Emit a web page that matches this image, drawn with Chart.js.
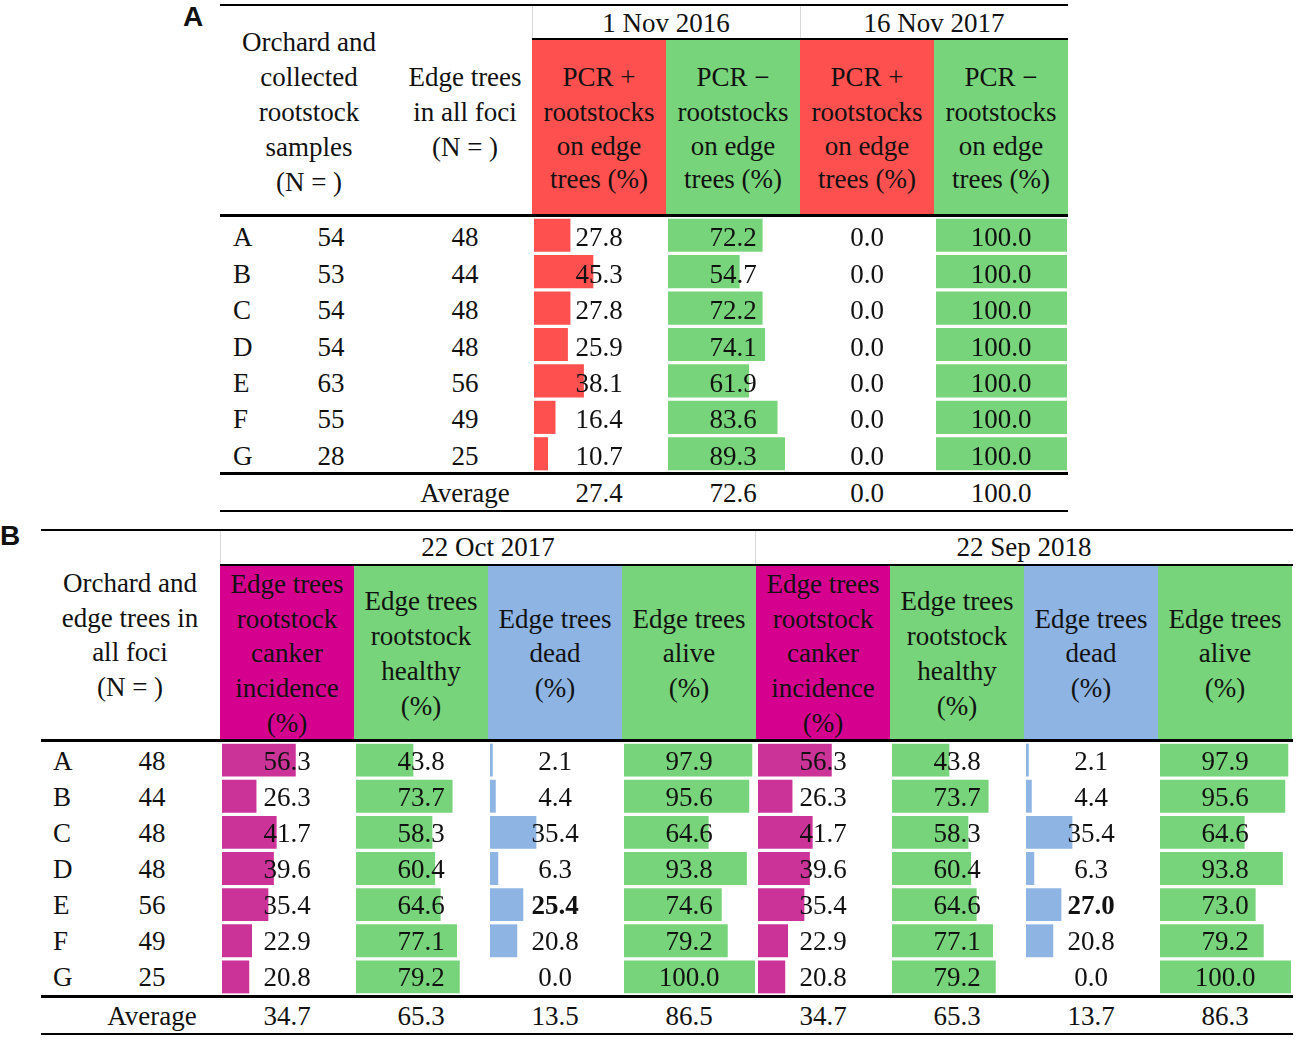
<!DOCTYPE html>
<html>
<head>
<meta charset="utf-8">
<script src="https://cdn.jsdelivr.net/npm/chart.js@4"></script>
<style>
  body { margin: 0; background: #fff; }
  #page { position: relative; width: 1297px; height: 1040px; overflow: hidden; font-family: "Liberation Serif", "Times New Roman", serif; color: #111; }
  .t { position: absolute; white-space: nowrap; font-size: 27px; line-height: 1; transform: translate(-50%, -50%); z-index: 3; }
  .t.left { transform: translate(0, -50%); }
  .t.b { font-weight: bold; }
  .panel { position: absolute; font-family: "Liberation Sans", Arial, sans-serif; font-weight: bold; font-size: 28px; line-height: 1; }
  .rule { position: absolute; background: #000; z-index: 2; }
  .vline { position: absolute; background: #d9d9d9; width: 1px; }
  .cell { position: absolute; }
  .bars { position: absolute; z-index: 1; }
</style>
</head>
<body>
<div id="page"></div>
<script>
const orchards = ['A', 'B', 'C', 'D', 'E', 'F', 'G'];

// part A
const samplesA = [54, 53, 54, 54, 63, 55, 28];
const edgeTreesA = [48, 44, 48, 48, 56, 49, 25];
const pcrPos2016 = [27.8, 45.3, 27.8, 25.9, 38.1, 16.4, 10.7];
const pcrNeg2016 = [72.2, 54.7, 72.2, 74.1, 61.9, 83.6, 89.3];
const pcrPos2017 = [0.0, 0.0, 0.0, 0.0, 0.0, 0.0, 0.0];
const pcrNeg2017 = [100.0, 100.0, 100.0, 100.0, 100.0, 100.0, 100.0];
const averageA = [27.4, 72.6, 0.0, 100.0];

// part B
const edgeTreesB = [48, 44, 48, 48, 56, 49, 25];
const canker2017 = [56.3, 26.3, 41.7, 39.6, 35.4, 22.9, 20.8];
const healthy2017 = [43.8, 73.7, 58.3, 60.4, 64.6, 77.1, 79.2];
const dead2017 = [2.1, 4.4, 35.4, 6.3, 25.4, 20.8, 0.0];
const alive2017 = [97.9, 95.6, 64.6, 93.8, 74.6, 79.2, 100.0];
const canker2018 = [56.3, 26.3, 41.7, 39.6, 35.4, 22.9, 20.8];
const healthy2018 = [43.8, 73.7, 58.3, 60.4, 64.6, 77.1, 79.2];
const dead2018 = [2.1, 4.4, 35.4, 6.3, 27.0, 20.8, 0.0];
const alive2018 = [97.9, 95.6, 64.6, 93.8, 73.0, 79.2, 100.0];
const averageB = [34.7, 65.3, 13.5, 86.5, 34.7, 65.3, 13.7, 86.3];
const boldRowB = 4; // row E of the dead columns is bold

const RED = '#ff5050', GREEN = '#77d47a', MAGENTA = '#d6008f', MAGBAR = '#cc3399', BLUE = '#8db4e2';

const page = document.getElementById('page');

function txt(s, cx, cy, cls) {
  const d = document.createElement('div');
  d.className = 't' + (cls ? ' ' + cls : '');
  d.textContent = s;
  d.style.left = cx + 'px';
  d.style.top = cy + 'px';
  page.appendChild(d);
}
function lines(arr, cx, ys) {
  arr.forEach((s, i) => txt(s, cx, ys[i]));
}
function rule(x1, x2, y, h) {
  const d = document.createElement('div');
  d.className = 'rule';
  d.style.left = x1 + 'px'; d.style.width = (x2 - x1) + 'px';
  d.style.top = y + 'px'; d.style.height = (h || 2) + 'px';
  page.appendChild(d);
}
function vline(x, y1, y2) {
  const d = document.createElement('div');
  d.className = 'vline';
  d.style.left = x + 'px'; d.style.top = y1 + 'px'; d.style.height = (y2 - y1) + 'px';
  page.appendChild(d);
}
function cell(x, y, w, h, color) {
  const d = document.createElement('div');
  d.className = 'cell';
  Object.assign(d.style, { left: x + 'px', top: y + 'px', width: w + 'px', height: h + 'px', background: color });
  page.appendChild(d);
}

// one small horizontal bar chart per data column
function bars(values, color, x, top, h, w) {
  const box = document.createElement('div');
  box.className = 'bars';
  Object.assign(box.style, { left: x + 'px', top: top + 'px', width: w + 'px', height: h + 'px' });
  const cv = document.createElement('canvas');
  box.appendChild(cv);
  page.appendChild(box);
  new Chart(cv, {
    type: 'bar',
    data: {
      labels: orchards,
      datasets: [{ data: values, backgroundColor: color, borderWidth: 0, barPercentage: 0.91, categoryPercentage: 1 }]
    },
    options: {
      indexAxis: 'y',
      responsive: true,
      maintainAspectRatio: false,
      animation: false,
      events: [],
      layout: { padding: { left: 2, right: 1, top: 0, bottom: 0 } },
      plugins: { legend: { display: false }, tooltip: { enabled: false } },
      scales: {
        x: { display: false, min: 0, max: 100 },
        y: { display: false }
      }
    }
  });
}

const fmt = v => v.toFixed(1);
const W = 134;

// ---------------- part A ----------------
const panelA = document.createElement('div');
panelA.className = 'panel'; panelA.textContent = 'A';
panelA.style.left = '183px'; panelA.style.top = '3px';
page.appendChild(panelA);

const colsA = [532, 666, 800, 934];
const colorsA = [RED, GREEN, RED, GREEN];
const seriesA = [pcrPos2016, pcrNeg2016, pcrPos2017, pcrNeg2017];
const headA = [['PCR +', 'rootstocks', 'on edge', 'trees (%)'], ['PCR \u2212', 'rootstocks', 'on edge', 'trees (%)']];

rule(220, 1068, 4, 2);
vline(532, 6, 38); vline(800, 6, 38);
txt('1 Nov 2016', 666, 23);
txt('16 Nov 2017', 934, 23);
rule(532, 1068, 38, 2);
colsA.forEach((x, i) => {
  cell(x, 40, W, 175, colorsA[i]);
  lines(headA[i % 2], x + W / 2, [77, 112, 146, 179]);
});
lines(['Orchard and', 'collected', 'rootstock', 'samples', '(N = )'], 309, [42, 77, 112, 147, 182]);
lines(['Edge trees', 'in all foci', '(N = )'], 465, [77, 112, 147]);
rule(220, 1068, 214, 3);

const topA = 217, botA = 472, rhA = (botA - topA) / 7;
colsA.forEach((x, i) => bars(seriesA[i], colorsA[i], x, topA, botA - topA, W));
orchards.forEach((o, r) => {
  const cy = topA + rhA * (r + 0.5) + 2;
  txt(o, 233, cy, 'left');
  txt(String(samplesA[r]), 331, cy);
  txt(String(edgeTreesA[r]), 465, cy);
  seriesA.forEach((s, i) => txt(fmt(s[r]), colsA[i] + W / 2, cy));
});
rule(220, 1068, 472, 3);
txt('Average', 465, 493);
averageA.forEach((v, i) => txt(fmt(v), colsA[i] + W / 2, 493));
rule(220, 1068, 510, 2);

// ---------------- part B ----------------
const panelB = document.createElement('div');
panelB.className = 'panel'; panelB.textContent = 'B';
panelB.style.left = '0px'; panelB.style.top = '522px';
page.appendChild(panelB);

const colsB = [220, 354, 488, 622, 756, 890, 1024, 1158];
const colorsB = [MAGENTA, GREEN, BLUE, GREEN, MAGENTA, GREEN, BLUE, GREEN];
const barColorsB = [MAGBAR, GREEN, BLUE, GREEN, MAGBAR, GREEN, BLUE, GREEN];
const seriesB = [canker2017, healthy2017, dead2017, alive2017, canker2018, healthy2018, dead2018, alive2018];
const headB = [
  [['Edge trees', 'rootstock', 'canker', 'incidence', '(%)'], [584, 619, 653, 688, 723]],
  [['Edge trees', 'rootstock', 'healthy', '(%)'], [601, 636, 671, 706]],
  [['Edge trees', 'dead', '(%)'], [619, 653, 688]],
  [['Edge trees', 'alive', '(%)'], [619, 653, 688]]
];

rule(41, 1293, 529, 2);
vline(220, 531, 564); vline(755, 531, 564);
txt('22 Oct 2017', 488, 547);
txt('22 Sep 2018', 1024, 547);
rule(220, 1293, 564, 2);
colsB.forEach((x, i) => {
  cell(x, 566, W, 174, colorsB[i]);
  const h = headB[i % 4];
  lines(h[0], x + W / 2, h[1]);
});
lines(['Orchard and', 'edge trees in', 'all foci', '(N = )'], 130, [583, 618, 652, 687]);
rule(41, 1293, 739, 3);

const topB = 742, botB = 995, rhB = (botB - topB) / 7;
colsB.forEach((x, i) => bars(seriesB[i], barColorsB[i], x, topB, botB - topB, W));
orchards.forEach((o, r) => {
  const cy = topB + rhB * (r + 0.5) + 0.5;
  txt(o, 53, cy, 'left');
  txt(String(edgeTreesB[r]), 152, cy);
  seriesB.forEach((s, i) => txt(fmt(s[r]), colsB[i] + W / 2, cy, (i % 4 === 2 && r === boldRowB) ? 'b' : ''));
});
rule(41, 1293, 995, 3);
txt('Average', 152, 1016);
averageB.forEach((v, i) => txt(fmt(v), colsB[i] + W / 2, 1016));
rule(41, 1293, 1033, 2);
</script>
</body>
</html>
